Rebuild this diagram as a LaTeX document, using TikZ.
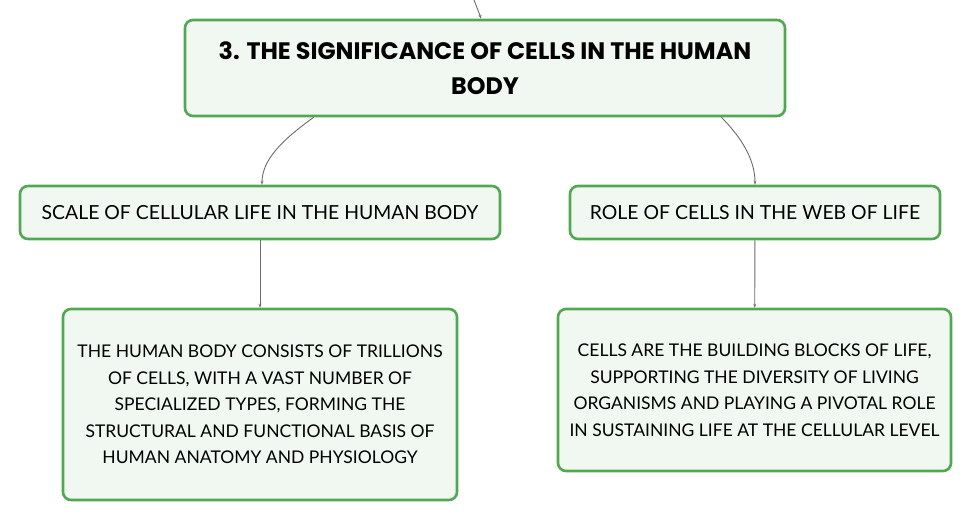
\documentclass[tikz,border=0pt]{standalone}
\usepackage{fontspec}
\setmainfont{Lato}
\newfontfamily\titlefont{Poppins}
\usetikzlibrary{arrows.meta}
\definecolor{boxgreen}{HTML}{52A852}
\definecolor{boxfill}{HTML}{F1F8F1}
\definecolor{linegray}{HTML}{6B6B6B}
\begin{document}
\begin{tikzpicture}[x=1pt,y=-1pt,
	box/.style={draw=boxgreen,fill=boxfill,line width=2.6pt,rounded corners=8pt,align=center,inner sep=0pt},
	conn/.style={draw=linegray,line width=0.9pt,-{Stealth[length=4pt,width=3pt]}}]
	
	\useasboundingbox (0,0) rectangle (971,521);
	
	\node[box,minimum width=600pt,minimum height=96pt,
	font=\titlefont\bfseries\fontsize{23.8}{35}\selectfont] (top) at (485,68)
	{3. THE SIGNIFICANCE OF CELLS IN THE HUMAN\\BODY};
	\node[box,minimum width=480pt,minimum height=53pt,
	font=\fontsize{19.4}{22}\selectfont] (scale) at (260,212.5)
	{SCALE OF CELLULAR LIFE IN THE HUMAN BODY};
	\node[box,minimum width=370pt,minimum height=53pt,
	font=\fontsize{19.4}{22}\selectfont] (role) at (755,212.5)
	{ROLE OF CELLS IN THE WEB OF LIFE};
	\node[box,minimum width=394pt,minimum height=191pt,
	font=\fontsize{17.5}{26.5}\selectfont] (scaletext) at (260,404.5)
	{THE HUMAN BODY CONSISTS OF TRILLIONS\\OF CELLS, WITH A VAST NUMBER OF\\SPECIALIZED TYPES, FORMING THE\\STRUCTURAL AND FUNCTIONAL BASIS OF\\HUMAN ANATOMY AND PHYSIOLOGY};
	\node[box,minimum width=393pt,minimum height=162pt,
	font=\fontsize{17.5}{26.5}\selectfont] (roletext) at (754.5,390)
	{CELLS ARE THE BUILDING BLOCKS OF LIFE,\\SUPPORTING THE DIVERSITY OF LIVING\\ORGANISMS AND PLAYING A PIVOTAL ROLE\\IN SUSTAINING LIFE AT THE CELLULAR LEVEL};
	
	\coordinate (parent) at (474,0);
	\draw[conn] (parent) .. controls (478,8) .. ([xshift=-4pt]top.north);
	\draw[conn] ([xshift=130pt]top.south west) .. controls (282,140) and (262,160) .. ([xshift=2pt]scale.north);
	\draw[conn] ([xshift=-65pt]top.south east) .. controls (742,138) and (755,160) .. (role.north);
	\draw[conn] (scale) -- (scaletext);
	\draw[conn] (role) -- (roletext);
\end{tikzpicture}
\end{document}
